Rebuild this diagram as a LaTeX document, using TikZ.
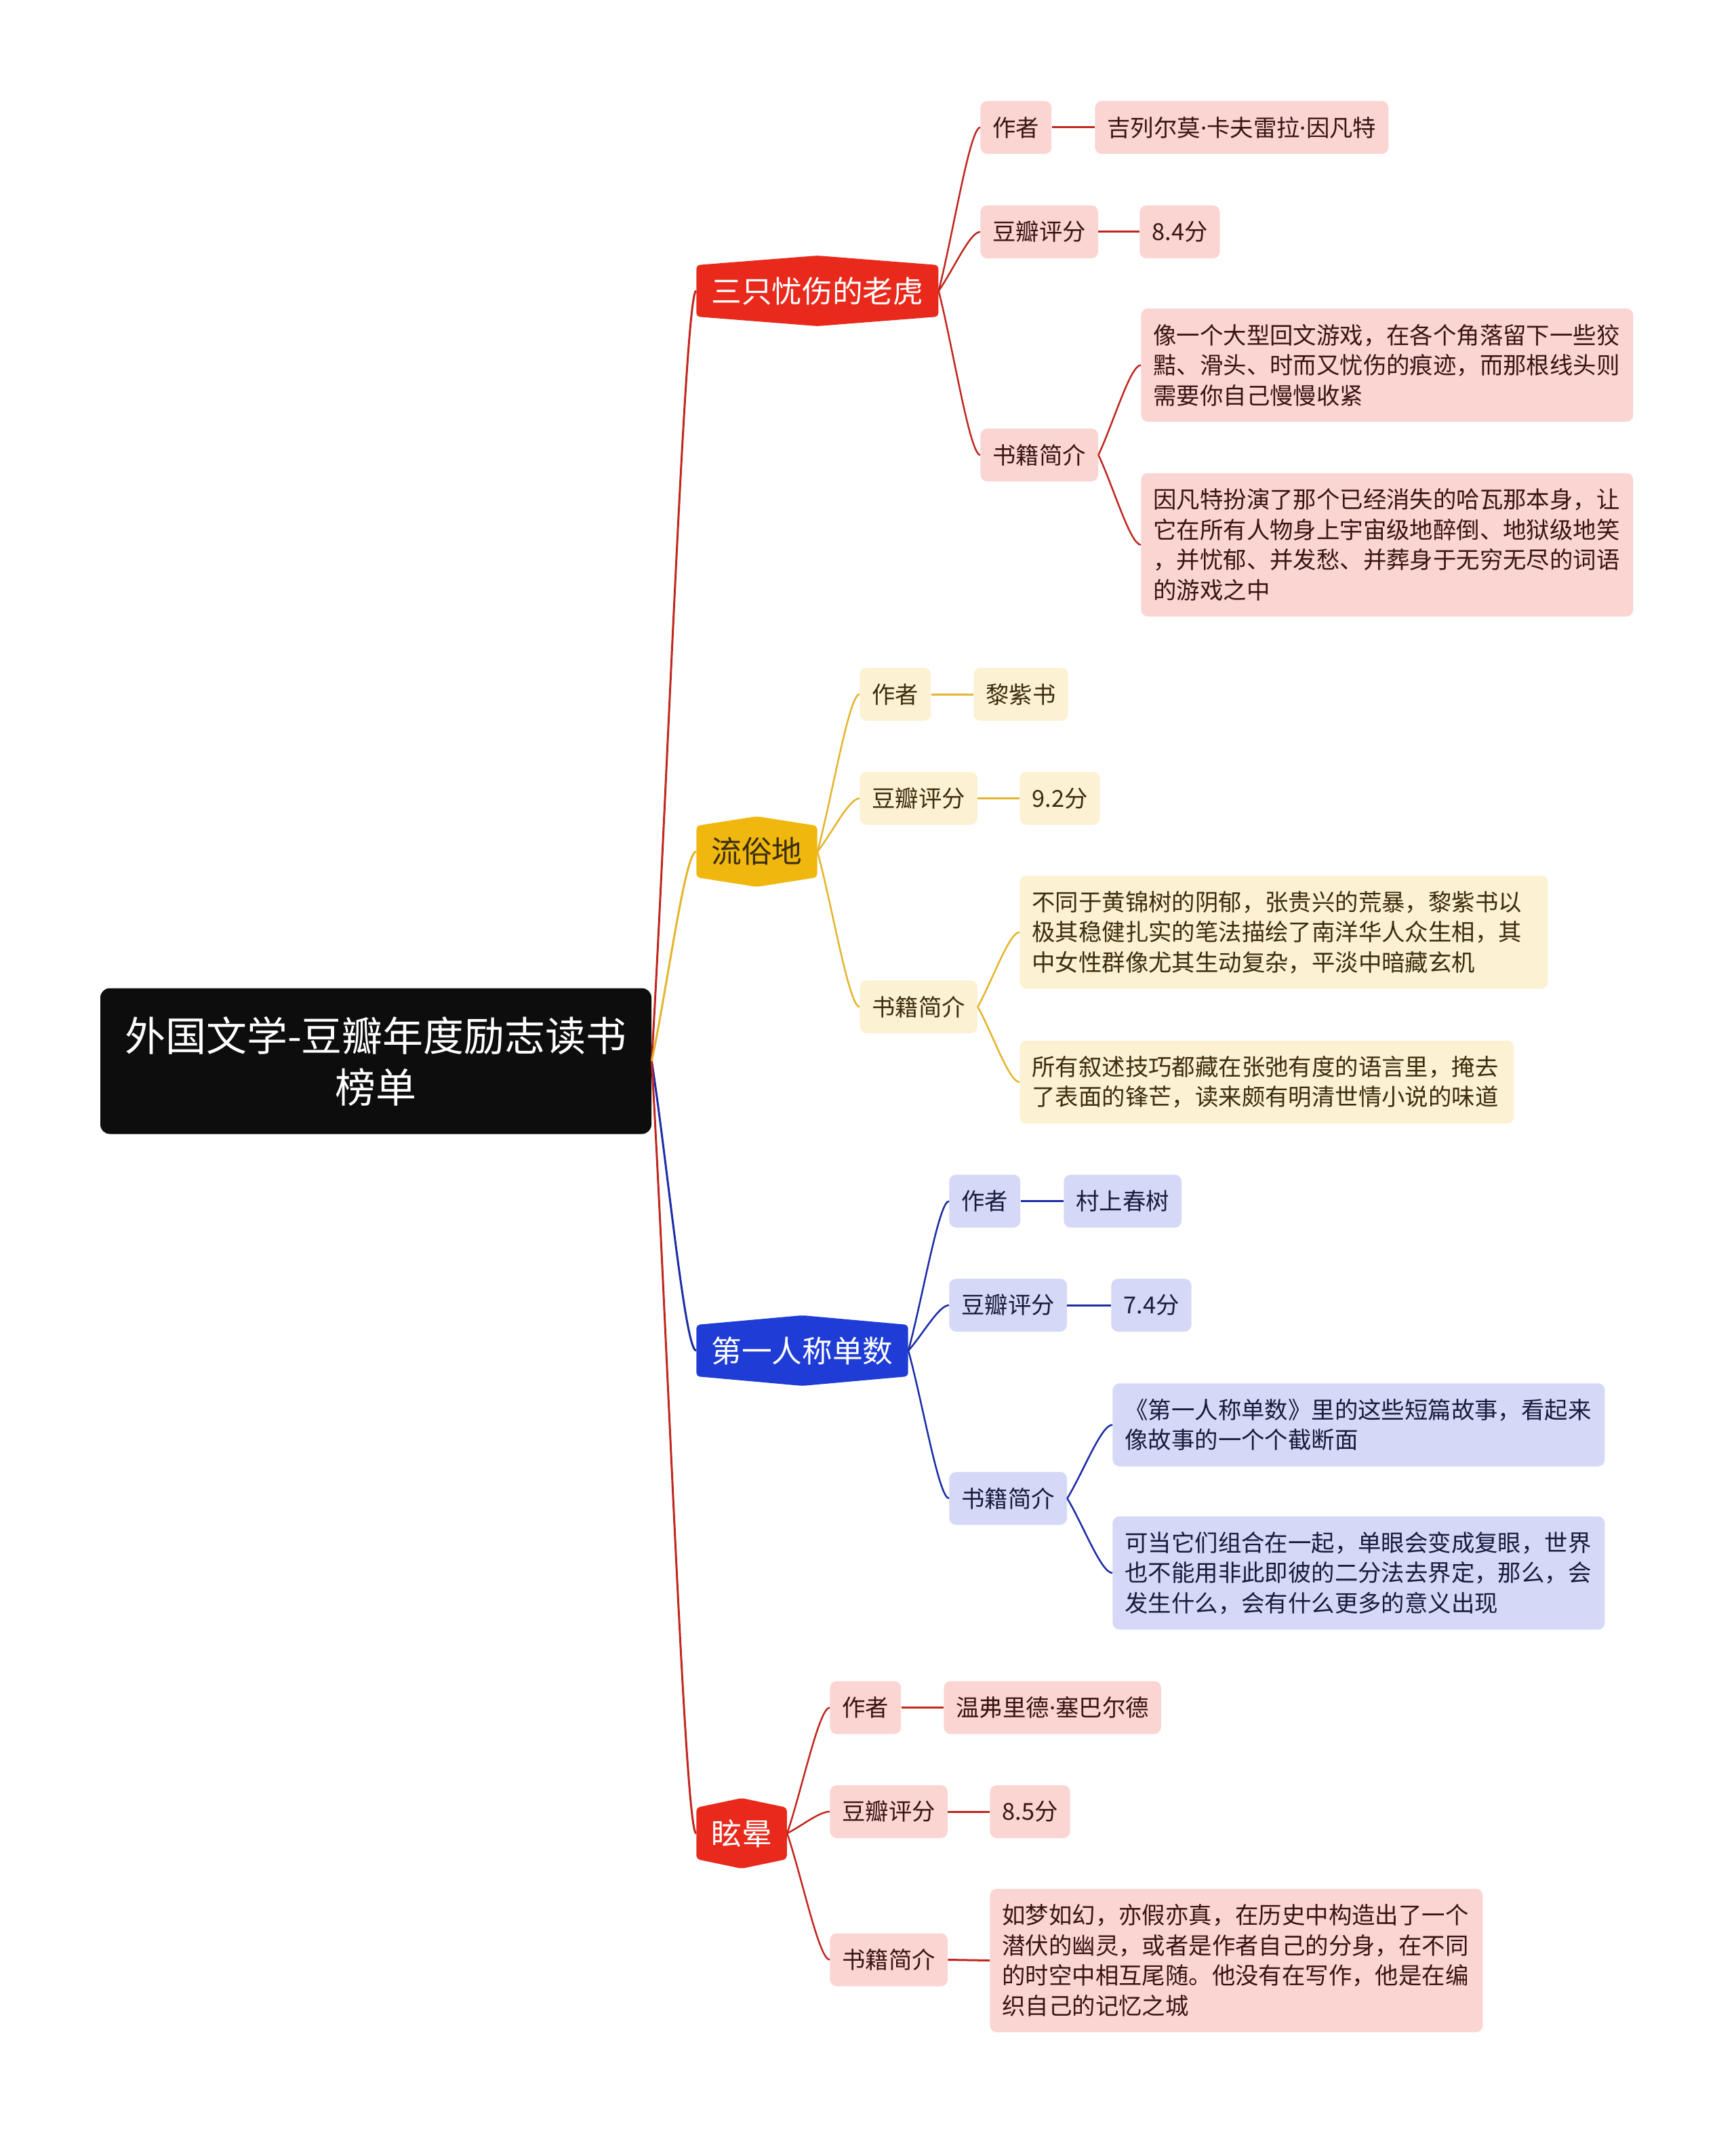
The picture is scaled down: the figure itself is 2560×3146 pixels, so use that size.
\documentclass[tikz,border=0pt]{standalone}
\usepackage{fontspec}
\usepackage{tikz}
\usetikzlibrary{calc,positioning}
\newfontfamily\cjkfont{Noto Sans CJK SC}
\newfontfamily\latinfont{Noto Sans}
\newcommand{\mdot}{{\latinfont ·}}
\definecolor{mmblack}{HTML}{0D0D0D}
\definecolor{mmred}{HTML}{E8291C}
\definecolor{mmredline}{HTML}{C1271F}
\definecolor{mmredleaf}{HTML}{FBD5D2}
\definecolor{mmredtext}{HTML}{3A1414}
\definecolor{mmyellow}{HTML}{F0B70E}
\definecolor{mmyellowline}{HTML}{E4B52B}
\definecolor{mmyellowleaf}{HTML}{FDF1D3}
\definecolor{mmyellowtext}{HTML}{3A2E0E}
\definecolor{mmblue}{HTML}{1F3DD6}
\definecolor{mmblueline}{HTML}{1B2CA6}
\definecolor{mmblueleaf}{HTML}{D5D9F7}
\definecolor{mmbluetext}{HTML}{181C3C}
\tikzset{
  rootBox/.style={fill=mmblack, text=white, rounded corners=7pt, align=center, minimum width=406.5pt, minimum height=107.5pt, font=\cjkfont\fontsize{30pt}{38pt}\selectfont},
  topicBox/.style={anchor=west, inner xsep=11pt, inner ysep=0pt, minimum height=52pt, font=\cjkfont\fontsize{22.35pt}{27pt}\selectfont,
    path picture={\fill[#1, rounded corners=2.5pt]
      ([yshift=-7pt]path picture bounding box.north west) -- (path picture bounding box.north) -- ([yshift=-7pt]path picture bounding box.north east)
      -- ([yshift=7pt]path picture bounding box.south east) -- (path picture bounding box.south) -- ([yshift=7pt]path picture bounding box.south west) -- cycle;}},
  leafBox/.style={anchor=west, fill=#1, rounded corners=5pt, inner xsep=9pt, inner ysep=0pt, minimum height=39pt, align=left, font=\cjkfont\fontsize{17.2pt}{22.25pt}\selectfont},
  nlines/.style={minimum height={16.75pt+#1*22.25pt}},
  redLeaf/.style={leafBox=mmredleaf, text=mmredtext},
  yellowLeaf/.style={leafBox=mmyellowleaf, text=mmyellowtext},
  blueLeaf/.style={leafBox=mmblueleaf, text=mmbluetext},
  curveLink/.style={to path={let \p1=(\tikztostart), \p2=(\tikztotarget) in
    .. controls ($(\p1)!0.35!(\p2)$) and ({\x2-0.25*(\x2-\x1)},\y2) .. (\tikztotarget) \tikztonodes}},
  mainLink/.style={draw=#1, line width=1.5pt, curveLink},
  subLink/.style={draw=#1, line width=1.25pt, curveLink},
  pairLink/.style={draw=#1, line width=1.5pt}
}
\begin{document}
\begin{tikzpicture}[x=0.5pt,y=-0.5pt]
  \fill[white] (0,0) rectangle (2560,3146);
  \useasboundingbox (0,0) rectangle (2560,3146);

  \node[rootBox] (root) at (554.5,1565) {外国文学-豆瓣年度励志读书\\榜单};

  % 三只忧伤的老虎
  \node[topicBox=mmred, text=white] (tiger) at (1027,429) {三只忧伤的老虎};
  \node[redLeaf] (tigerA) at (1446,188) {作者};
  \node[redLeaf] (tigerAv) at (1615,188) {吉列尔莫\mdot 卡夫雷拉\mdot 因凡特};
  \node[redLeaf] (tigerS) at (1446,342) {豆瓣评分};
  \node[redLeaf] (tigerSv) at (1681,342) {8.4分};
  \node[redLeaf] (tigerI) at (1446,671) {书籍简介};
  \node[redLeaf, text width=345pt, nlines=3] (tigerI1) at (1683,538.5) {像一个大型回文游戏，在各个角落留下一些狡\\黠、滑头、时而又忧伤的痕迹，而那根线头则\\需要你自己慢慢收紧};
  \node[redLeaf, text width=345pt, nlines=4] (tigerI2) at (1683,803.5) {因凡特扮演了那个已经消失的哈瓦那本身，让\\它在所有人物身上宇宙级地醉倒、地狱级地笑\\，并忧郁、并发愁、并葬身于无穷无尽的词语\\的游戏之中};

  % 流俗地
  \node[topicBox=mmyellow, text=mmyellowtext] (liusu) at (1027,1256) {流俗地};
  \node[yellowLeaf] (liusuA) at (1268,1024) {作者};
  \node[yellowLeaf] (liusuAv) at (1436,1024) {黎紫书};
  \node[yellowLeaf] (liusuS) at (1268,1177.5) {豆瓣评分};
  \node[yellowLeaf] (liusuSv) at (1504,1177.5) {9.2分};
  \node[yellowLeaf] (liusuI) at (1268,1485) {书籍简介};
  \node[yellowLeaf, text width=371.5pt, nlines=3] (liusuI1) at (1504,1375) {不同于黄锦树的阴郁，张贵兴的荒暴，黎紫书以\\极其稳健扎实的笔法描绘了南洋华人众生相，其\\中女性群像尤其生动复杂，平淡中暗藏玄机};
  \node[yellowLeaf, text width=346.5pt, nlines=2] (liusuI2) at (1504,1596) {所有叙述技巧都藏在张弛有度的语言里，掩去\\了表面的锋芒，读来颇有明清世情小说的味道};

  % 第一人称单数
  \node[topicBox=mmblue, text=white] (first) at (1027,1992) {第一人称单数};
  \node[blueLeaf] (firstA) at (1400,1771.5) {作者};
  \node[blueLeaf] (firstAv) at (1569,1771.5) {村上春树};
  \node[blueLeaf] (firstS) at (1400,1925) {豆瓣评分};
  \node[blueLeaf] (firstSv) at (1639,1925) {7.4分};
  \node[blueLeaf] (firstI) at (1400,2210) {书籍简介};
  \node[blueLeaf, text width=345pt, nlines=2] (firstI1) at (1641,2101.5) {《第一人称单数》里的这些短篇故事，看起来\\像故事的一个个截断面};
  \node[blueLeaf, text width=345pt, nlines=3] (firstI2) at (1641,2320) {可当它们组合在一起，单眼会变成复眼，世界\\也不能用非此即彼的二分法去界定，那么，会\\发生什么，会有什么更多的意义出现};

  % 眩晕
  \node[topicBox=mmred, text=white] (vertigo) at (1027,2704) {眩晕};
  \node[redLeaf] (vertigoA) at (1224,2518.5) {作者};
  \node[redLeaf] (vertigoAv) at (1392,2518.5) {温弗里德\mdot 塞巴尔德};
  \node[redLeaf] (vertigoS) at (1224,2672) {豆瓣评分};
  \node[redLeaf] (vertigoSv) at (1460,2672) {8.5分};
  \node[redLeaf] (vertigoI) at (1224,2890.5) {书籍简介};
  \node[redLeaf, text width=345.5pt, nlines=4] (vertigoI1) at (1460,2891.5) {如梦如幻，亦假亦真，在历史中构造出了一个\\潜伏的幽灵，或者是作者自己的分身，在不同\\的时空中相互尾随。他没有在写作，他是在编\\织自己的记忆之城};

  % connectors
  \draw[mainLink=mmredline] (root.east) to (tiger.west);
  \draw[mainLink=mmyellowline] (root.east) to (liusu.west);
  \draw[mainLink=mmblueline] (root.east) to (first.west);
  \draw[mainLink=mmredline] (root.east) to (vertigo.west);

  \foreach \b/\c in {tiger/mmredline, liusu/mmyellowline, first/mmblueline, vertigo/mmredline} {
    \draw[subLink=\c] (\b.east) to (\b A.west);
    \draw[subLink=\c] (\b.east) to (\b S.west);
    \draw[subLink=\c] (\b.east) to (\b I.west);
    \draw[pairLink=\c] (\b A.east) -- (\b Av.west);
    \draw[pairLink=\c] (\b S.east) -- (\b Sv.west);
  }
  \draw[subLink=mmredline] (tigerI.east) to (tigerI1.west);
  \draw[subLink=mmredline] (tigerI.east) to (tigerI2.west);
  \draw[subLink=mmyellowline] (liusuI.east) to (liusuI1.west);
  \draw[subLink=mmyellowline] (liusuI.east) to (liusuI2.west);
  \draw[subLink=mmblueline] (firstI.east) to (firstI1.west);
  \draw[subLink=mmblueline] (firstI.east) to (firstI2.west);
  \draw[pairLink=mmredline] (vertigoI.east) -- (vertigoI1.west);
\end{tikzpicture}
\end{document}
